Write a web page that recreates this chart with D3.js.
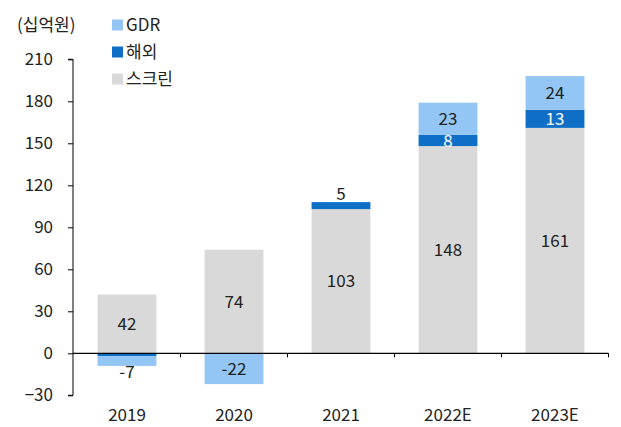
<!DOCTYPE html>
<html>
<head>
<meta charset="utf-8">
<script src="https://d3js.org/d3.v7.min.js"></script>
<style>
  body { margin: 0; background: #fff; font-family: 'Noto Sans CJK KR', 'Noto Sans', sans-serif; }
</style>
</head>
<body>
<div id="chart"></div>
<script>
  // values (십억원)
  const years = ['2019', '2020', '2021', '2022E', '2023E'];
  const screen = [42, 74, 103, 148, 161];
  const overseas = [-2, 0, 5, 8, 13];
  const gdr = [-7, -22, 0, 23, 24];
  const yTicks = [-30, 0, 30, 60, 90, 120, 150, 180, 210];

  const seriesNames = ['스크린', '해외', 'GDR'];
  const colors = { '스크린': '#d9d9d9', '해외': '#0f6fc6', 'GDR': '#93c6f4' };
  const labelColors = { '스크린': '#222', '해외': '#fff', 'GDR': '#222' };

  const width = 621, height = 427;
  const margin = { top: 59, right: 12, bottom: 32, left: 73 };
  const fs = 17;

  const svg = d3.select('#chart').append('svg')
    .attr('width', width)
    .attr('height', height)
    .style('font-family', "'Noto Sans CJK KR', 'Noto Sans', sans-serif");

  const x = d3.scaleBand()
    .domain(years)
    .range([73.5, 608.5])
    .paddingInner(0.45)
    .paddingOuter(0.225);

  const y = d3.scaleLinear()
    .domain([-30, 210])
    .range([395.3, 59.3]);

  // build stacked segments (positive and negative stacked separately)
  const rows = years.map((yr, i) => ({ year: yr, '스크린': screen[i], '해외': overseas[i], 'GDR': gdr[i] }));
  const segs = [];
  rows.forEach(r => {
    let pos = 0, neg = 0;
    seriesNames.forEach(s => {
      const v = r[s];
      if (v === 0) return;
      let y0, y1;
      if (v > 0) { y0 = pos; y1 = pos + v; pos = y1; }
      else { y0 = neg; y1 = neg + v; neg = y1; }
      segs.push({ year: r.year, key: s, value: v, y0, y1 });
    });
  });

  // y axis
  const yAxis = svg.append('g')
    .attr('transform', `translate(${margin.left},0)`)
    .call(d3.axisLeft(y).tickValues(yTicks).tickSize(5).tickPadding(15));
  yAxis.select('.domain').attr('d', `M-5,${y(-30)}H0V${y(210)}H-5`).attr('stroke', '#000');
  yAxis.selectAll('.tick line').attr('stroke', '#000');
  yAxis.selectAll('.tick text')
    .attr('font-size', fs)
    .attr('fill', '#222')
    .attr('font-family', "'Noto Sans CJK KR', 'Noto Sans', sans-serif");

  // bars
  svg.append('g').selectAll('rect')
    .data(segs)
    .join('rect')
    .attr('x', d => x(d.year))
    .attr('width', x.bandwidth())
    .attr('y', d => y(Math.max(d.y0, d.y1)))
    .attr('height', d => Math.abs(y(d.y0) - y(d.y1)))
    .attr('fill', d => colors[d.key]);

  // zero line with category ticks
  const xAxis = svg.append('g')
    .attr('transform', `translate(0,${y(0)})`);
  xAxis.append('line')
    .attr('x1', margin.left).attr('x2', 608.5)
    .attr('stroke', '#000').attr('stroke-width', 1.2);
  const step = x.step();
  xAxis.selectAll('line.tk')
    .data(years.slice(1).concat(['end']))
    .join('line')
    .attr('class', 'tk')
    .attr('x1', (d, i) => x(years[0]) - x.paddingOuter() * step + (i + 1) * step)
    .attr('x2', (d, i) => x(years[0]) - x.paddingOuter() * step + (i + 1) * step)
    .attr('y1', 0).attr('y2', 4)
    .attr('stroke', '#000');

  // category labels
  svg.append('g').selectAll('text')
    .data(years)
    .join('text')
    .attr('x', d => x(d) + x.bandwidth() / 2)
    .attr('y', 421)
    .attr('text-anchor', 'middle')
    .attr('font-size', fs)
    .attr('fill', '#222')
    .text(d => d);

  // value labels
  svg.append('g').selectAll('text')
    .data(segs.filter(d => Math.abs(d.value) > 2))
    .join('text')
    .attr('x', d => x(d.year) + x.bandwidth() / 2)
    .attr('y', d => {
      const h = Math.abs(y(d.y0) - y(d.y1));
      if (d.key === '해외' && h < 9) return y(d.y1) - 8;   // thin segment: label above
      if (d.value < 0 && h < 16) return y(d.y1) + 6;        // thin negative: label at bottom edge
      return y((d.y0 + d.y1) / 2);
    })
    .attr('dy', '0.36em')
    .attr('text-anchor', 'middle')
    .attr('font-size', fs)
    .attr('fill', d => {
      const h = Math.abs(y(d.y0) - y(d.y1));
      return (d.key === '해외' && h < 9) ? '#222' : labelColors[d.key];
    })
    .text(d => d.value);

  // unit
  svg.append('text')
    .attr('x', 17).attr('y', 25)
    .attr('dy', '0.36em')
    .attr('font-size', fs)
    .attr('fill', '#222')
    .text('(십억원)');

  // legend
  const legendKeys = ['GDR', '해외', '스크린'];
  const lg = svg.append('g').selectAll('g')
    .data(legendKeys)
    .join('g')
    .attr('transform', (d, i) => `translate(112,${25 + i * 27})`);
  lg.append('rect')
    .attr('x', 0).attr('y', -5.5)
    .attr('width', 11).attr('height', 11)
    .attr('fill', d => colors[d]);
  lg.append('text')
    .attr('x', 14).attr('dy', '0.36em')
    .attr('font-size', fs)
    .attr('fill', '#222')
    .text(d => d);
</script>
</body>
</html>
